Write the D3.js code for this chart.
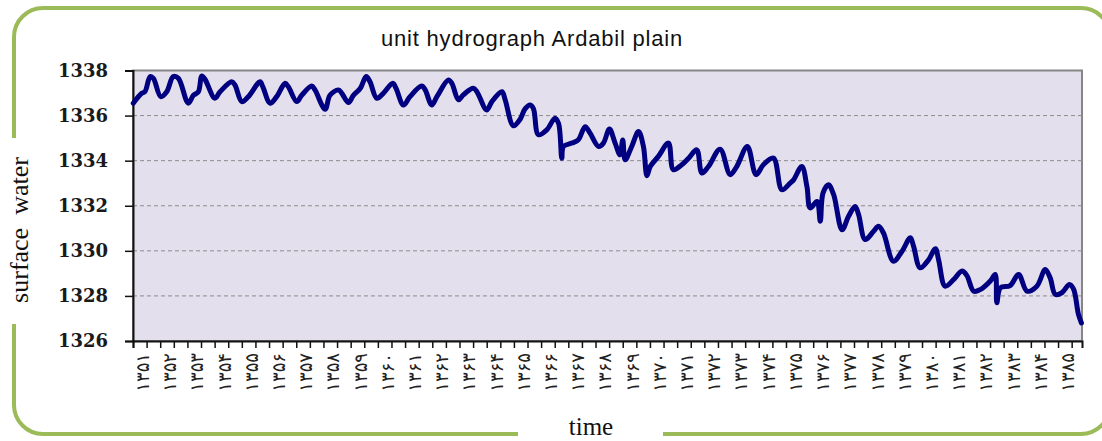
<!DOCTYPE html>
<html>
<head>
<meta charset="utf-8">
<script src="https://cdn.jsdelivr.net/npm/d3@7"></script>
<style>
  html, body { margin: 0; padding: 0; background: #ffffff; }
  svg { display: block; }
</style>
</head>
<body>
<svg id="chart" viewBox="0 0 1102 441" width="1102" height="441"></svg>
<script>
// years shown on the category axis (Persian calendar)
const yearLabels = ["۱۳۵۱","۱۳۵۲","۱۳۵۳","۱۳۵۴","۱۳۵۵","۱۳۵۶","۱۳۵۷","۱۳۵۸","۱۳۵۹","۱۳۶۰",
  "۱۳۶۱","۱۳۶۲","۱۳۶۳","۱۳۶۴","۱۳۶۵","۱۳۶۶","۱۳۶۷","۱۳۶۸","۱۳۶۹","۱۳۷۰",
  "۱۳۷۱","۱۳۷۲","۱۳۷۳","۱۳۷۴","۱۳۷۵","۱۳۷۶","۱۳۷۷","۱۳۷۸","۱۳۷۹","۱۳۸۰",
  "۱۳۸۱","۱۳۸۲","۱۳۸۳","۱۳۸۴","۱۳۸۵"];

const yTicks = [1326, 1328, 1330, 1332, 1334, 1336, 1338];

// time since start of record (years) and water level (m)
const time = [0.01,0.32,0.44,0.63,0.75,1.02,1.24,1.48,1.67,2.03,2.22,2.40,2.53,2.65,3.01,3.20,3.63,3.75,4.00,4.24,
  4.67,4.77,5.04,5.28,5.59,5.71,6.02,6.20,6.57,6.69,7.06,7.24,7.55,7.67,7.92,8.10,8.35,8.57,8.71,8.96,
  9.20,9.55,9.67,9.94,10.18,10.61,10.74,10.98,11.17,11.59,11.72,11.96,12.14,12.51,12.64,13.00,13.19,13.56,13.68,13.98,
  14.23,14.41,14.60,14.72,14.90,15.21,15.51,15.64,15.76,15.82,16.13,16.37,16.62,16.80,17.11,17.29,17.51,17.72,17.90,18.00,
  18.09,18.33,18.58,18.76,18.89,19.01,19.31,19.68,19.86,20.17,20.42,20.72,20.91,21.15,21.58,21.95,22.19,22.58,22.90,23.17,
  23.54,23.85,24.15,24.28,24.58,24.77,24.89,25.14,25.26,25.36,25.56,25.75,26.06,26.30,26.54,26.67,26.91,27.22,27.40,27.58,
  27.95,28.26,28.57,28.69,28.93,29.24,29.49,29.61,29.85,30.16,30.47,30.65,30.90,31.14,31.51,31.69,31.75,31.88,32.24,32.55,
  32.86,33.22,33.53,33.71,33.90,34.14,34.42,34.57,34.75,34.86];

const level = [1336.55,1336.99,1337.06,1337.73,1337.65,1336.84,1337.06,1337.73,1337.65,1336.55,1336.90,1337.05,1337.76,1337.60,1336.77,1337.06,1337.50,1337.35,1336.62,1336.84,
  1337.50,1337.28,1336.55,1336.84,1337.43,1337.28,1336.62,1336.90,1337.31,1337.14,1336.28,1336.90,1337.14,1337.00,1336.58,1336.90,1337.20,1337.73,1337.50,1336.77,
  1336.99,1337.43,1337.20,1336.47,1336.84,1337.31,1337.14,1336.47,1336.84,1337.58,1337.43,1336.70,1336.92,1337.21,1337.06,1336.25,1336.62,1337.06,1336.70,1335.55,
  1335.84,1336.30,1336.47,1336.30,1335.15,1335.37,1335.88,1335.66,1334.11,1334.63,1334.78,1334.93,1335.51,1335.22,1334.63,1334.78,1335.40,1334.78,1334.26,1334.92,
  1334.04,1334.63,1335.29,1334.63,1333.33,1333.74,1334.19,1334.78,1333.60,1333.82,1334.11,1334.48,1333.45,1333.74,1334.51,1333.38,1333.74,1334.63,1333.38,1333.82,
  1334.11,1332.71,1333.00,1333.15,1333.74,1332.85,1331.90,1332.19,1331.31,1332.56,1332.93,1332.50,1330.94,1331.53,1331.97,1331.60,1330.50,1330.87,1331.09,1330.80,
  1329.54,1329.97,1330.58,1330.20,1329.25,1329.60,1330.09,1329.60,1328.43,1328.72,1329.10,1328.90,1328.21,1328.28,1328.66,1328.95,1327.70,1328.36,1328.46,1328.95,
  1328.21,1328.43,1329.17,1328.80,1328.07,1328.14,1328.51,1328.30,1327.18,1326.80];

const svg = d3.select("#chart");
const plot = { left: 133, right: 1082, top: 70.5, bottom: 341 };

const x = d3.scaleLinear().domain([0, 34.88]).range([plot.left, plot.right]);
const y = d3.scaleLinear().domain([1326, 1338]).range([plot.bottom, plot.top]);

// green rounded frame, with gaps for the axis titles
svg.append("rect")
  .attr("x", 14).attr("y", 8)
  .attr("width", 1096).attr("height", 426)
  .attr("rx", 29)
  .attr("fill", "none")
  .attr("stroke", "#9bbb59")
  .attr("stroke-width", 4);
svg.append("rect").attr("x", 6).attr("y", 138).attr("width", 16).attr("height", 186).attr("fill", "#fff");
svg.append("rect").attr("x", 518).attr("y", 426).attr("width", 145).attr("height", 15).attr("fill", "#fff");

// plot area
svg.append("rect")
  .attr("x", plot.left).attr("y", plot.top)
  .attr("width", plot.right - plot.left).attr("height", plot.bottom - plot.top)
  .attr("fill", "#e4dfec")
  .attr("stroke", "#868686")
  .attr("stroke-width", 2);

// dashed gridlines
svg.append("g")
  .selectAll("line")
  .data(yTicks.filter(d => d > 1326 && d < 1338))
  .enter()
  .append("line")
  .attr("x1", plot.left).attr("x2", plot.right)
  .attr("y1", d => y(d)).attr("y2", d => y(d))
  .attr("stroke", "#8c8c8c")
  .attr("stroke-width", 1)
  .attr("stroke-dasharray", "4,3");

// y axis
const yAxis = svg.append("g")
  .attr("transform", `translate(${plot.left},0)`)
  .call(d3.axisLeft(y).tickValues(yTicks).tickSize(8).tickPadding(17).tickFormat(d3.format("d")));
yAxis.select(".domain").attr("stroke", "#111").attr("stroke-width", 2);
yAxis.selectAll(".tick line").attr("stroke", "#111").attr("stroke-width", 1.5);
yAxis.selectAll(".tick text")
  .attr("fill", "#1a1a1a")
  .style("font-family", "'DejaVu Serif', serif")
  .style("font-weight", "bold")
  .style("font-size", "18px");

// x axis: tick every half year, label every year
const halfYears = d3.range(0, 70).map(k => k * 0.5);
const xAxis = svg.append("g")
  .attr("transform", `translate(0,${plot.bottom})`)
  .call(d3.axisBottom(x).tickValues(halfYears).tickSize(7).tickFormat(""));
xAxis.select(".domain").attr("stroke", "#111").attr("stroke-width", 2);
xAxis.selectAll(".tick line").attr("stroke", "#111").attr("stroke-width", 1.5);

svg.append("g")
  .selectAll("text")
  .data(yearLabels)
  .enter()
  .append("text")
  .attr("transform", (d, i) => `translate(${x(i + 0.5) - 4},353) rotate(-90)`)
  .attr("text-anchor", "end")
  .attr("dy", "0.35em")
  .style("font-family", "'DejaVu Sans', sans-serif")
  .style("font-size", "18px")
  .style("letter-spacing", "3px")
  .attr("fill", "#222")
  .text(d => d);

// water level line
const line = d3.line()
  .x((d, i) => x(time[i]))
  .y(d => y(d))
  .curve(d3.curveCatmullRom.alpha(0.5));

svg.append("path")
  .datum(level)
  .attr("d", line)
  .attr("fill", "none")
  .attr("stroke", "#000080")
  .attr("stroke-width", 5)
  .attr("stroke-linejoin", "round")
  .attr("stroke-linecap", "round");

// titles
svg.append("text")
  .attr("x", 532).attr("y", 46)
  .attr("text-anchor", "middle")
  .style("font-family", "'Liberation Sans', Arial, sans-serif")
  .style("font-size", "22px")
  .style("letter-spacing", "0.8px")
  .attr("fill", "#111")
  .text("unit hydrograph Ardabil plain");

svg.append("text")
  .attr("transform", "translate(28,230) rotate(-90)")
  .attr("text-anchor", "middle")
  .style("font-family", "'Liberation Serif', 'Times New Roman', serif")
  .style("font-size", "26px")
  .style("white-space", "pre")
  .attr("fill", "#111")
  .text("surface  water");

svg.append("text")
  .attr("x", 591).attr("y", 435)
  .attr("text-anchor", "middle")
  .style("font-family", "'Liberation Serif', 'Times New Roman', serif")
  .style("font-size", "25px")
  .attr("fill", "#111")
  .text("time");
</script>
</body>
</html>
